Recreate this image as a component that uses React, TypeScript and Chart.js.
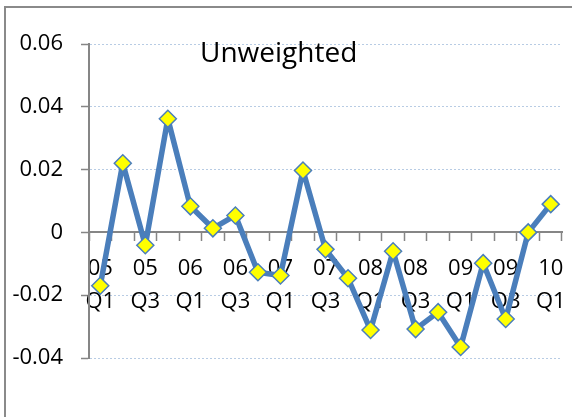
import React, { useEffect, useRef } from 'react';
import { Chart, registerables } from 'chart.js';

Chart.register(...registerables);

const yearLabels = ['05', '05', '05', '05', '06', '06', '06', '06', '07', '07', '07', '07', '08', '08', '08', '08', '09', '09', '09', '09', '10'];
const quarterLabels = ['Q1', 'Q2', 'Q3', 'Q4', 'Q1', 'Q2', 'Q3', 'Q4', 'Q1', 'Q2', 'Q3', 'Q4', 'Q1', 'Q2', 'Q3', 'Q4', 'Q1', 'Q2', 'Q3', 'Q4', 'Q1'];
const unweightedValues = [-0.017, 0.022, -0.0041, 0.0362, 0.0083, 0.0013, 0.0054, -0.0127, -0.0137, 0.0197, -0.0054, -0.0146, -0.0311, -0.006, -0.0308, -0.0254, -0.0365, -0.0098, -0.0276, 0.0, 0.009];
const yMin = -0.04;
const yMax = 0.06;
const yStep = 0.02;
const titleText = 'Unweighted';

const FONT = '"Open Sans", "DejaVu Sans", sans-serif';

export default function App() {
  const ref = useRef<HTMLCanvasElement | null>(null);

  useEffect(() => {
    if (!ref.current) return;
    const categories = yearLabels.map((y, i) => [y, quarterLabels[i]]);

    const framePlugin = {
      id: 'frame',
      beforeDraw(chart: any) {
        const ctx = chart.ctx;
        ctx.save();
        ctx.strokeStyle = '#8a8a8a';
        ctx.lineWidth = 2;
        ctx.beginPath();
        ctx.moveTo(5, chart.height);
        ctx.lineTo(5, 7);
        ctx.lineTo(chart.width, 7);
        ctx.stroke();
        ctx.restore();
      },
    };

    const titlePlugin = {
      id: 'innerTitle',
      afterDraw(chart: any) {
        const ctx = chart.ctx;
        const a = chart.chartArea;
        ctx.save();
        ctx.font = `28px ${FONT}`;
        ctx.fillStyle = '#000';
        ctx.textAlign = 'left';
        ctx.textBaseline = 'alphabetic';
        ctx.fillText(titleText, a.left + 111, a.top + 18);
        ctx.restore();
      },
    };

    const chart = new Chart(ref.current, {
      type: 'line',
      data: {
        labels: categories,
        datasets: [
          {
            label: titleText,
            data: unweightedValues,
            borderColor: '#4A7EBB',
            borderWidth: 5.5,
            borderJoinStyle: 'round',
            borderCapStyle: 'round',
            tension: 0,
            pointStyle: 'rectRot',
            pointRadius: 8.5,
            pointBackgroundColor: '#FFFF00',
            pointBorderColor: '#4A7EBB',
            pointBorderWidth: 1.5,
          },
        ],
      },
      options: {
        animation: false,
        responsive: false,
        layout: { padding: { top: 44, right: 9, bottom: 59, left: 0 } },
        plugins: {
          legend: { display: false },
          title: { display: false },
          tooltip: { enabled: false },
        },
        scales: {
          x: {
            type: 'category',
            offset: true,
            position: { y: 0 } as any,
            afterFit: (scale: any) => {
              scale.paddingLeft = 0;
              scale.paddingRight = 0;
            },
            grid: {
              offset: true,
              drawOnChartArea: false,
              drawTicks: true,
              tickLength: 8,
              tickColor: '#868686',
              tickWidth: 1.5,
            },
            border: { display: true, color: '#868686', width: 2 },
            ticks: {
              autoSkip: false,
              maxRotation: 0,
              minRotation: 0,
              padding: 12,
              color: '#000',
              font: { family: FONT, size: 22, lineHeight: 1.5 },
              callback: (_v: any, i: number) => (i % 2 === 0 ? categories[i] : ''),
            },
          },
          y: {
            min: yMin,
            max: yMax,
            afterFit: (scale: any) => {
              scale.width = 89;
            },
            grid: {
              color: (c: any) => (c.tick && Math.abs(c.tick.value) < 1e-9 ? 'rgba(0,0,0,0)' : '#b8cce4'),
              lineWidth: 1,
              tickLength: 8,
              tickColor: '#868686',
              tickWidth: 1.5,
              drawTicks: true,
            },
            border: { display: true, color: '#868686', width: 2, dash: [2, 2] },
            ticks: {
              stepSize: yStep,
              padding: 18,
              color: '#000',
              font: { family: FONT, size: 22 },
              callback: (v: any) => {
                const n = Number(v);
                if (Math.abs(n) < 1e-9) return '0';
                return n.toFixed(2);
              },
            },
          },
        },
      },
      plugins: [framePlugin, titlePlugin],
    });
    return () => chart.destroy();
  }, []);

  return (
    <div style={{ position: 'absolute', left: 0, top: 0, width: 572, height: 417, background: '#fff' }}>
      <canvas ref={ref} width={572} height={417} style={{ display: 'block' }} />
    </div>
  );
}
